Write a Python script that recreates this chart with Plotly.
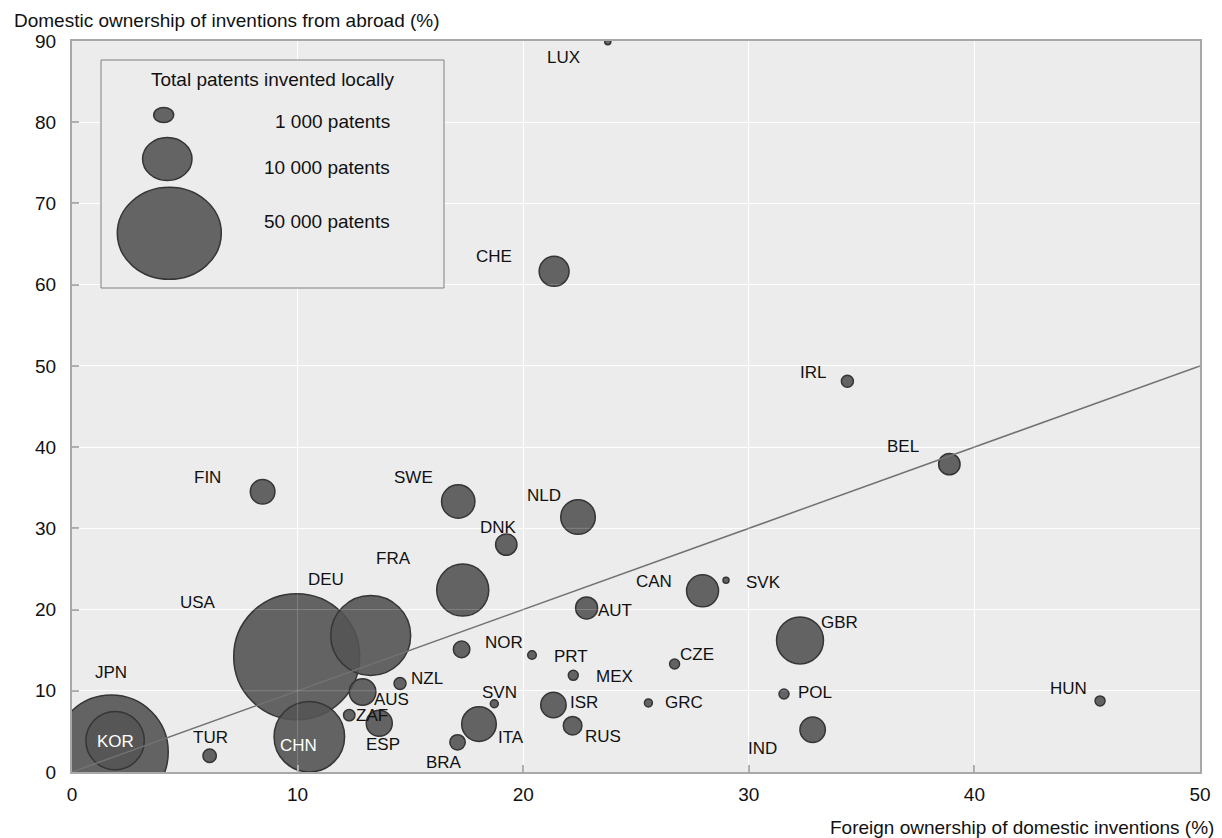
import plotly.graph_objects as go

# ---------------- data ----------------
countries = ["LUX", "CHE", "IRL", "BEL", "FIN", "SWE", "NLD", "DNK", "FRA", "DEU",
             "USA", "AUT", "CAN", "SVK", "GBR", "NOR", "PRT", "MEX", "CZE", "NZL",
             "AUS", "ZAF", "ESP", "SVN", "ISR", "GRC", "ITA", "RUS", "BRA", "IND",
             "POL", "HUN", "TUR", "JPN", "KOR", "CHN"]
foreign_ownership = [23.75, 21.37, 34.37, 38.89, 8.45, 17.12, 22.43, 19.25, 17.32, 13.24,
                     9.96, 22.81, 27.95, 28.99, 32.27, 17.27, 20.39, 22.22, 26.71, 14.54,
                     12.88, 12.29, 13.62, 18.72, 21.34, 25.55, 18.04, 22.19, 17.09, 32.83,
                     31.56, 45.57, 6.10, 1.74, 1.91, 10.52]
domestic_ownership = [89.9, 61.65, 48.1, 37.9, 34.5, 33.3, 31.4, 28.0, 22.4, 16.8,
                      14.2, 20.2, 22.3, 23.6, 16.2, 15.1, 14.4, 11.9, 13.3, 10.9,
                      9.85, 7.0, 6.0, 8.4, 8.25, 8.5, 5.9, 5.7, 3.65, 5.2,
                      9.6, 8.75, 2.0, 2.46, 3.86, 4.35]
patents = [170, 4250, 680, 2160, 2860, 5270, 5660, 2160, 12800, 30200,
           75000, 2290, 4840, 170, 10400, 1300, 350, 470, 470, 680,
           3340, 610, 3200, 300, 3050, 300, 5660, 1640, 1120, 3050,
           470, 470, 850, 61400, 16100, 23500]

diag_x = [0, 50]
diag_y = [0, 50]

x_ticks = [0, 10, 20, 30, 40, 50]
y_ticks = [0, 10, 20, 30, 40, 50, 60, 70, 80, 90]

legend_title = "Total patents invented locally"
legend_labels = ["1 000 patents", "10 000 patents", "50 000 patents"]

x_title = "Foreign ownership of domestic inventions (%)"
y_title = "Domestic ownership of inventions from abroad (%)"

# ---------------- style / layout ----------------
FONT = "Arial, Liberation Sans, sans-serif"
OFF = 8                                   # page body margin
W, H = 1222 - OFF, 838 - OFF
# plot area in screen pixels
SL, SR, ST, SB = 72, 1200, 41, 772
PL, PR, PT, PB = SL - OFF, SR - OFF, ST - OFF, SB - OFF
PW, PH = PR - PL, PB - PT

def px(xs):
    """screen x pixel -> paper fraction"""
    return (xs - SL) / PW

def py(ys):
    """screen y pixel -> paper fraction"""
    return (SB - ys) / PH

K = 0.23                      # radius (px) per sqrt(patent)
SIZEREF = 1.0 / (2 * K * K)

# label offsets (pixels: dx right, dy up) and colours
label_offsets = {
    "LUX": (-44, -16), "CHE": (-60, 15), "IRL": (-34, 9), "BEL": (-46, 18),
    "FIN": (-55, 14), "SWE": (-45, 24), "NLD": (-34, 21), "DNK": (-8, 17),
    "FRA": (-69, 32), "DEU": (-45, 56), "USA": (-99, 54), "AUT": (28, -3),
    "CAN": (-49, 9), "SVK": (37, -2), "GBR": (39, 18), "NOR": (42, 7),
    "PRT": (39, -1), "MEX": (41, -1), "CZE": (22, 9), "NZL": (27, 5),
    "AUS": (29, -7), "ZAF": (23, 0), "ESP": (4, -21), "SVN": (5, 11),
    "ISR": (31, 2), "GRC": (36, 0), "ITA": (32, -13), "RUS": (30, -11),
    "BRA": (-14, -20), "IND": (-50, -19), "POL": (31, 2), "HUN": (-32, 12),
    "TUR": (1, 18), "JPN": (0, 80), "KOR": (0, -1), "CHN": (-11, -9),
}
white_labels = {"KOR", "CHN"}

# draw larger bubbles first
order = sorted(range(len(countries)), key=lambda i: -patents[i])

fig = go.Figure()
fig.add_trace(go.Scatter(
    x=[foreign_ownership[i] for i in order],
    y=[domestic_ownership[i] for i in order],
    mode="markers",
    text=[countries[i] for i in order],
    marker=dict(
        size=[patents[i] for i in order],
        sizemode="area",
        sizeref=SIZEREF,
        opacity=1,
        color="rgba(84,84,84,0.9)",
        line=dict(color="#353535", width=1.5),
    ),
    hovertemplate="%{text}<extra></extra>",
    showlegend=False,
))
fig.add_trace(go.Scatter(
    x=diag_x, y=diag_y, mode="lines",
    line=dict(color="#727272", width=1.5),
    hoverinfo="skip", showlegend=False,
))

annotations = []
for c, xv, yv in zip(countries, foreign_ownership, domestic_ownership):
    dx, dy = label_offsets[c]
    annotations.append(dict(
        x=xv, y=yv, xref="x", yref="y", text=c, showarrow=False,
        xshift=dx, yshift=dy,
        font=dict(family=FONT, size=17,
                  color="white" if c in white_labels else "#111111"),
    ))

# axis titles
annotations.append(dict(
    x=px(12), y=py(20), xref="paper", yref="paper", text=y_title,
    showarrow=False, xanchor="left", yanchor="middle",
    font=dict(family=FONT, size=19, color="#111111"),
))
annotations.append(dict(
    x=px(1216), y=py(827), xref="paper", yref="paper", text=x_title,
    showarrow=False, xanchor="right", yanchor="middle",
    font=dict(family=FONT, size=19, color="#111111"),
))

shapes = []
# gridlines partly visible over the bubbles
for v in x_ticks[1:-1]:
    shapes.append(dict(type="line", xref="x", yref="y", x0=v, x1=v,
                       y0=y_ticks[0], y1=y_ticks[-1], layer="above",
                       line=dict(color="rgba(255,255,255,0.18)", width=1)))
for v in y_ticks[1:-1]:
    shapes.append(dict(type="line", xref="x", yref="y", y0=v, y1=v,
                       x0=x_ticks[0], x1=x_ticks[-1], layer="above",
                       line=dict(color="rgba(255,255,255,0.18)", width=1)))

# size legend box
shapes.append(dict(type="rect", xref="paper", yref="paper",
                   x0=px(101), x1=px(444), y0=py(288), y1=py(60), layer="above",
                   fillcolor="#ececec", line=dict(color="#808080", width=1)))
legend_keys = [(163.7, 115, 10, 7.5), (167.3, 159, 24.7, 21.5), (169.3, 233.3, 52, 46)]
legend_text_y = [121, 167, 221]
for (cx, cy, rx, ry), lab, ty in zip(legend_keys, legend_labels, legend_text_y):
    shapes.append(dict(type="circle", xref="paper", yref="paper",
                       x0=px(cx - rx), x1=px(cx + rx), y0=py(cy + ry), y1=py(cy - ry),
                       layer="above", fillcolor="#646464",
                       line=dict(color="#353535", width=1.5)))
    annotations.append(dict(
        x=px(392), y=py(ty), xref="paper", yref="paper", text=lab,
        showarrow=False, xanchor="right", yanchor="middle",
        font=dict(family=FONT, size=19, color="#111111"),
    ))
annotations.append(dict(
    x=px(272), y=py(79), xref="paper", yref="paper", text=legend_title,
    showarrow=False, xanchor="center", yanchor="middle",
    font=dict(family=FONT, size=19, color="#111111"),
))

axis_common = dict(
    showgrid=True, gridcolor="#ffffff", gridwidth=1.2,
    zeroline=False,
    showline=True, linecolor="#a8a8a8", linewidth=2, mirror=True,
    ticks="inside", ticklen=7, tickcolor="#a8a8a8", tickwidth=1.5,
    tickfont=dict(family=FONT, size=19, color="#111111"),
    layer="above traces",
)

fig.update_layout(
    width=W, height=H,
    margin=dict(l=PL, r=W - PR, t=PT, b=H - PB, pad=0),
    paper_bgcolor="white", plot_bgcolor="#ececec",
    xaxis=dict(range=[0, 50], tickvals=x_ticks, ticklabelstandoff=4, **axis_common),
    yaxis=dict(range=[0, 90], tickvals=y_ticks, ticklabelstandoff=10, **axis_common),
    annotations=annotations, shapes=shapes,
    showlegend=False,
    font=dict(family=FONT),
)

fig.write_html("out.html")
